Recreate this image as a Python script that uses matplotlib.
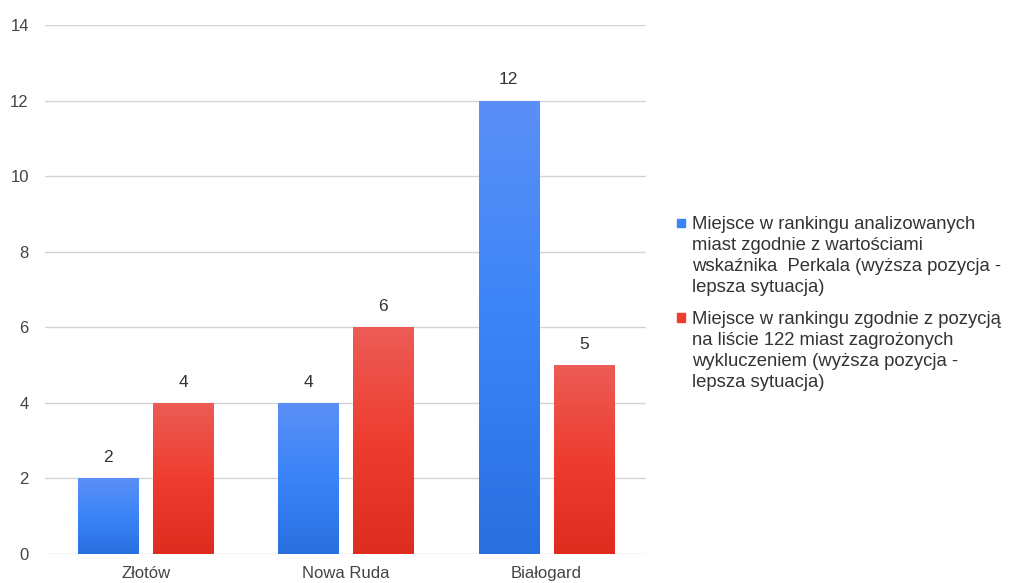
import matplotlib.pyplot as plt
import matplotlib.patches as mpatches
import numpy as np
from matplotlib.colors import LinearSegmentedColormap

# dane
miasta = ["Złotów", "Nowa Ruda", "Białogard"]
perkal = [2, 4, 12]
lista_122 = [4, 6, 5]
etykiety = [
    "Miejsce w rankingu analizowanych\nmiast zgodnie z wartościami\nwskaźnika  Perkala (wyższa pozycja -\nlepsza sytuacja)",
    "Miejsce w rankingu zgodnie z pozycją\nna liście 122 miast zagrożonych\nwykluczeniem (wyższa pozycja -\nlepsza sytuacja)",
]

plt.rcParams['font.family'] = ['Liberation Sans', 'DejaVu Sans']

fig = plt.figure(figsize=(10.1, 5.83), dpi=100)
ax = fig.add_axes([0.045, 0.05, 0.595, 0.907])

x = np.arange(len(miasta))
w = 0.30
off = 0.187

# gradienty (góra -> dół)
cm_blue = LinearSegmentedColormap.from_list("b", ["#5b8ff6", "#3a84f8", "#2a6fe0"])
cm_red = LinearSegmentedColormap.from_list("r", ["#ec5c56", "#ee3d30", "#de2c1f"])
grad = np.linspace(0, 1, 256).reshape(-1, 1)

def gradient_bars(bars, cmap):
    for b in bars:
        b.set_facecolor("none")
        b.set_edgecolor("none")
        x0, y0 = b.get_x(), b.get_y()
        x1, y1 = x0 + b.get_width(), y0 + b.get_height()
        im = ax.imshow(grad, cmap=cmap, aspect="auto", extent=[x0, x1, y0, y1],
                       origin="upper", zorder=3)
        im.set_clip_path(b)

b1 = ax.bar(x - off, perkal, w, zorder=3)
b2 = ax.bar(x + off, lista_122, w, zorder=3)
gradient_bars(b1, cm_blue)
gradient_bars(b2, cm_red)

for xi, v in zip(x - off, perkal):
    ax.text(xi, v + 0.35, str(v), ha="center", va="bottom", fontsize=12.5, color="#333333")
for xi, v in zip(x + off, lista_122):
    ax.text(xi, v + 0.35, str(v), ha="center", va="bottom", fontsize=12.5, color="#333333")

ax.set_xlim(-0.5, 2.5)
ax.set_ylim(0, 14)
ax.set_yticks(range(0, 15, 2))
ax.set_xticks(x)
ax.set_xticklabels(miasta)
ax.tick_params(axis="both", length=0, labelsize=12, colors="#444444")
ax.tick_params(axis="y", pad=12)
ax.tick_params(axis="x", pad=9)
ax.yaxis.grid(True, color="#d4d4d4", linewidth=1)
ax.set_axisbelow(True)
for s in ax.spines.values():
    s.set_visible(False)

# legenda rysowana ręcznie (kwadrat przy pierwszej linii)
kolory = ["#3a84f8", "#ee3d30"]
y_top = [0.629, 0.467]
y_kw = [0.6098, 0.4485]
for kol, tekst, yt, yk in zip(kolory, etykiety, y_top, y_kw):
    fig.patches.append(mpatches.Rectangle((0.670, yk), 0.0085, 0.0148,
                                          transform=fig.transFigure, color=kol))
    fig.text(0.685, yt, tekst, ha="left", va="top", fontsize=13.3,
             color="#333333", linespacing=1.31)

fig.savefig("out.png", dpi=100)
